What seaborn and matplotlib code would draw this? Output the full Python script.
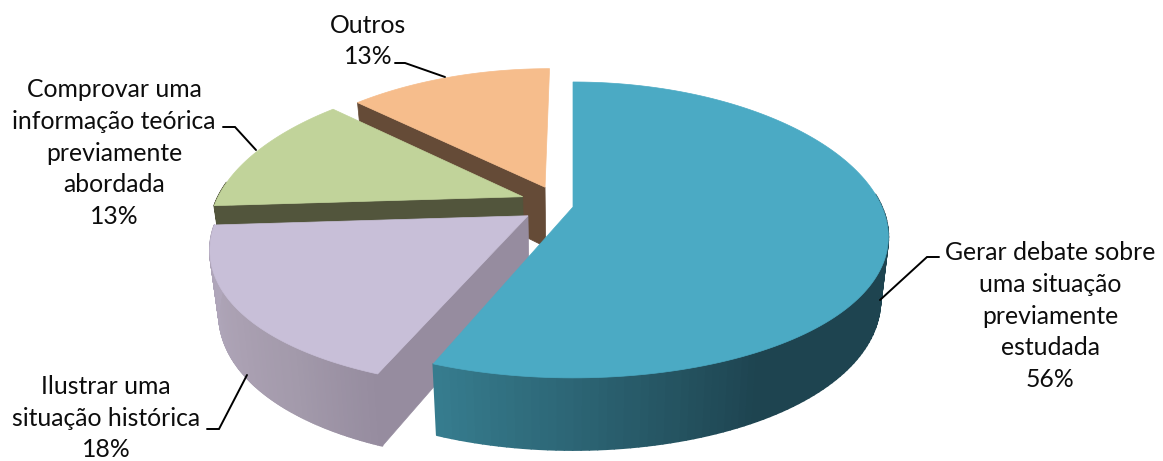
import numpy as np
import matplotlib
matplotlib.use("Agg")
import matplotlib.pyplot as plt
from matplotlib.collections import PolyCollection
import seaborn as sns

# Chart content, clockwise from twelve o'clock
categories = [
    "Gerar debate sobre\numa situação\npreviamente\nestudada",
    "Ilustrar uma\nsituação histórica",
    "Comprovar uma\ninformação teórica\npreviamente\nabordada",
    "Outros",
]
shares = [56, 18, 13, 13]

# Slice styling
top_colors = ["#4baac4", "#c8bfd8", "#c1d39a", "#f6bd8c"]
cut_colors = ["#1e4450", "#968c9f", "#52553c", "#654b37"]
wall_ramps = [
    ["#1e4450", "#1e4450", "#1e4450", "#1e4450", "#367c8e"],
    ["#968c9f", "#a39aab", "#aaa0b2", "#aea5b8", "#b0a6bb"],
    ["#52553c", "#52553c"],
    ["#654b37", "#654b37"],
]
# Explosion of each slice on the pie plane (right, away from the viewer) and its radius
explode_u = [0.0, -0.144, -0.165, -0.093]
explode_v = [0.0, -0.060, 0.072, 0.140]
slice_radius = [1.0, 0.99, 1.0, 0.985]

# Projection of the tilted pie onto the canvas
CX, CY = 573, 207
SCALE_X, SCALE_Y = 309, 144.4
PERSPECTIVE_X, PERSPECTIVE_Y = 0.2, 0.155
DEPTH = 61
BASE_SHRINK = 0.975


def project(u, v, lowered=False):
    wx = 1 + PERSPECTIVE_X * v
    wy = 1 + PERSPECTIVE_Y * v
    x = SCALE_X * u / wx
    y = -SCALE_Y * v / wy
    if lowered:
        return CX + x * BASE_SHRINK, CY + y + DEPTH / wy
    return CX + x, CY + y


def rim(theta_deg, i):
    t = np.radians(theta_deg)
    r = slice_radius[i]
    return explode_u[i] + r * np.sin(t), explode_v[i] + r * np.cos(t)


def quad_between(a, b):
    return [project(*a), project(*b), project(*b, lowered=True), project(*a, lowered=True)]


sns.set_theme(style="white")
plt.rcParams["font.family"] = ["Lato", "DejaVu Sans"]

fig, ax = plt.subplots(figsize=(11.63, 4.61), dpi=100)
ax.set_position([0, 0, 1, 1])
ax.set_xlim(0, 1163)
ax.set_ylim(461, 0)
ax.axis("off")

edges = np.concatenate([[0], np.cumsum(shares)]) / sum(shares) * 360

# Far slices first so that nearer ones paint over them
for i in reversed(range(len(shares))):
    start, end = edges[i], edges[i + 1]
    apex = (explode_u[i], explode_v[i])

    if np.sin(np.radians(start)) < -1e-6:
        ax.add_patch(plt.Polygon(quad_between(apex, rim(start, i)), closed=True,
                                 facecolor=cut_colors[i], edgecolor=cut_colors[i], lw=0.5))

    # Outer wall: only the part of the rim that faces the viewer
    thetas = np.linspace(start, end, 160)
    ramp = sns.blend_palette(wall_ramps[i], len(thetas) - 1)
    pairs = list(zip(thetas[:-1], thetas[1:], ramp))
    facing = [p for p in pairs if np.cos(np.radians(p[0])) < 0.1]
    if facing:
        quads = [quad_between(rim(a, i), rim(b, i)) for a, b, _ in facing]
        tones = [c for _, _, c in facing]
        ax.add_collection(PolyCollection(quads, facecolors=tones, edgecolors=tones, linewidths=1.2))

    arc = [project(*rim(t, i)) for t in thetas]
    outline = np.array([project(*apex)] + arc)
    ax.fill(outline[:, 0], outline[:, 1], color=top_colors[i], lw=0.5)

# Data labels with their elbow leader lines
label_style = dict(ha="center", va="center", fontsize=17.8, color="#0d0d0d", linespacing=1.47)
label_anchor = [(1050, 316), (106, 418), (114, 153), (368, 41)]
leaders = [
    [(880, 300), (927, 257), (939, 257)],
    [(247, 375), (219, 429), (207, 429)],
    [(256, 150), (235, 127), (223, 127)],
    [(445, 77), (405, 63), (395, 63)],
]
for name, share, anchor, path in zip(categories, shares, label_anchor, leaders):
    ax.text(*anchor, f"{name}\n{share}%", clip_on=False, **label_style)
    xs, ys = zip(*path)
    ax.plot(xs, ys, color="black", lw=1.4, solid_joinstyle="miter")

fig.savefig("out.png", dpi=100, facecolor="white")
